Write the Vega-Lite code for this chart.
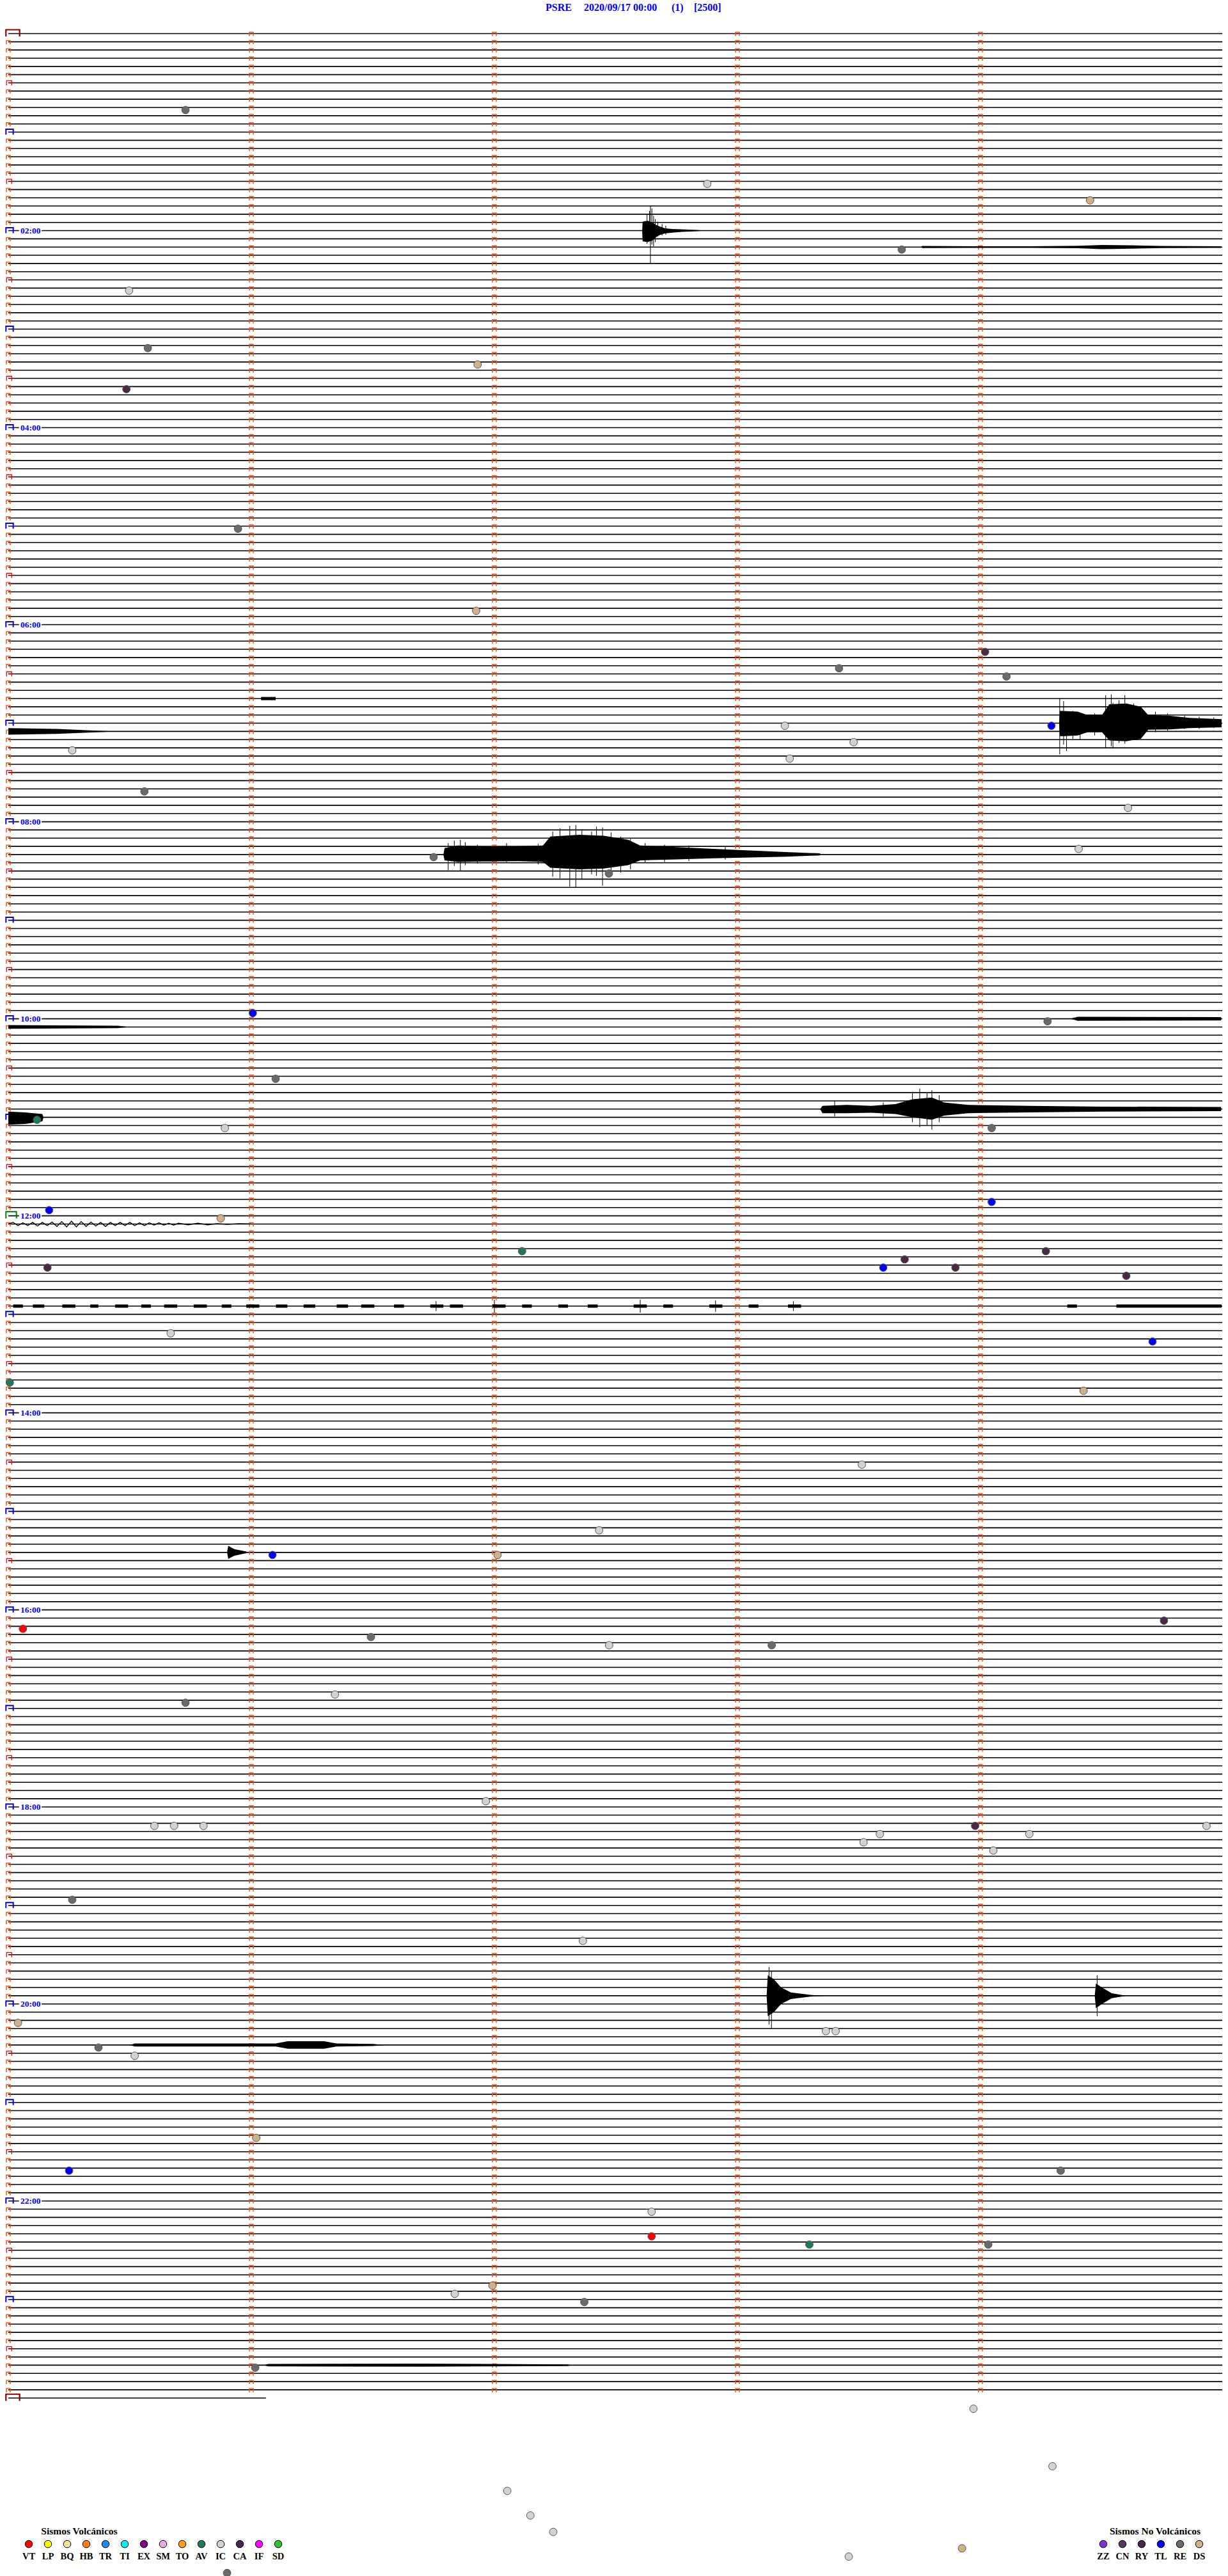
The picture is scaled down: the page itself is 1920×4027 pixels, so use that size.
{
"$schema":"https://vega.github.io/schema/vega-lite/v6.json",
"width":1920,"height":4027,"autosize":{"type":"none"},"padding":0,"background":"white",
"config":{"view":{"stroke":null}},
"datasets":{
"rows":[{"r":0,"k":"d"},{"r":1},{"r":2},{"r":3},{"r":4},{"r":5},{"r":6,"k":"h"},{"r":7},{"r":8},{"r":9},{"r":10},{"r":11},
{"r":12,"k":"b"},{"r":13},{"r":14},{"r":15},{"r":16},{"r":17},{"r":18,"k":"h"},{"r":19},{"r":20},{"r":21},{"r":22},{"r":23},
{"r":24,"k":"b"},{"r":25},{"r":26},{"r":27},{"r":28},{"r":29},{"r":30,"k":"h"},{"r":31},{"r":32},{"r":33},{"r":34},{"r":35},
{"r":36,"k":"b"},{"r":37},{"r":38},{"r":39},{"r":40},{"r":41},{"r":42,"k":"h"},{"r":43},{"r":44},{"r":45},{"r":46},{"r":47},
{"r":48,"k":"b"},{"r":49},{"r":50},{"r":51},{"r":52},{"r":53},{"r":54,"k":"h"},{"r":55},{"r":56},{"r":57},{"r":58},{"r":59},
{"r":60,"k":"b"},{"r":61},{"r":62},{"r":63},{"r":64},{"r":65},{"r":66,"k":"h"},{"r":67},{"r":68},{"r":69},{"r":70},{"r":71},
{"r":72,"k":"b"},{"r":73},{"r":74},{"r":75},{"r":76},{"r":77},{"r":78,"k":"h"},{"r":79},{"r":80},{"r":81},{"r":82},{"r":83},
{"r":84,"k":"b"},{"r":85},{"r":86},{"r":87},{"r":88},{"r":89},{"r":90,"k":"h"},{"r":91},{"r":92},{"r":93},{"r":94},{"r":95},
{"r":96,"k":"b"},{"r":97},{"r":98},{"r":99},{"r":100},{"r":101},{"r":102,"k":"h"},{"r":103},{"r":104},{"r":105},{"r":106},{"r":107},
{"r":108,"k":"b"},{"r":109},{"r":110},{"r":111},{"r":112},{"r":113},{"r":114,"k":"h"},{"r":115},{"r":116},{"r":117},{"r":118},{"r":119},
{"r":120,"k":"b"},{"r":121},{"r":122},{"r":123},{"r":124},{"r":125},{"r":126,"k":"h"},{"r":127},{"r":128},{"r":129},{"r":130},{"r":131},
{"r":132,"k":"b"},{"r":133},{"r":134},{"r":135},{"r":136},{"r":137},{"r":138,"k":"h"},{"r":139},{"r":140},{"r":141},{"r":142},{"r":143},
{"r":144,"k":"g"},{"r":145},{"r":146},{"r":147},{"r":148},{"r":149},{"r":150,"k":"h"},{"r":151},{"r":152},{"r":153},{"r":154},{"r":155},
{"r":156,"k":"b"},{"r":157},{"r":158},{"r":159},{"r":160},{"r":161},{"r":162,"k":"h"},{"r":163},{"r":164},{"r":165},{"r":166},{"r":167},
{"r":168,"k":"b"},{"r":169},{"r":170},{"r":171},{"r":172},{"r":173},{"r":174,"k":"h"},{"r":175},{"r":176},{"r":177},{"r":178},{"r":179},
{"r":180,"k":"b"},{"r":181},{"r":182},{"r":183},{"r":184},{"r":185},{"r":186,"k":"h"},{"r":187},{"r":188},{"r":189},{"r":190},{"r":191},
{"r":192,"k":"b"},{"r":193},{"r":194},{"r":195},{"r":196},{"r":197},{"r":198,"k":"h"},{"r":199},{"r":200},{"r":201},{"r":202},{"r":203},
{"r":204,"k":"b"},{"r":205},{"r":206},{"r":207},{"r":208},{"r":209},{"r":210,"k":"h"},{"r":211},{"r":212},{"r":213},{"r":214},{"r":215},
{"r":216,"k":"b"},{"r":217},{"r":218},{"r":219},{"r":220},{"r":221},{"r":222,"k":"h"},{"r":223},{"r":224},{"r":225},{"r":226},{"r":227},
{"r":228,"k":"b"},{"r":229},{"r":230},{"r":231},{"r":232},{"r":233},{"r":234,"k":"h"},{"r":235},{"r":236},{"r":237},{"r":238},{"r":239},
{"r":240,"k":"b"},{"r":241},{"r":242},{"r":243},{"r":244},{"r":245},{"r":246,"k":"h"},{"r":247},{"r":248},{"r":249},{"r":250},{"r":251},
{"r":252,"k":"b"},{"r":253},{"r":254},{"r":255},{"r":256},{"r":257},{"r":258,"k":"h"},{"r":259},{"r":260},{"r":261},{"r":262},{"r":263},
{"r":264,"k":"b"},{"r":265},{"r":266},{"r":267},{"r":268},{"r":269},{"r":270,"k":"h"},{"r":271},{"r":272},{"r":273},{"r":274},{"r":275},
{"r":276,"k":"b"},{"r":277},{"r":278},{"r":279},{"r":280},{"r":281},{"r":282,"k":"h"},{"r":283},{"r":284},{"r":285},{"r":286},{"r":287},
{"r":288,"k":"d"}],
"labels":[{"r":24,"t":"02:00"},{"r":48,"t":"04:00"},{"r":72,"t":"06:00"},{"r":96,"t":"08:00"},{"r":120,"t":"10:00"},{"r":144,"t":"12:00"},{"r":168,"t":"14:00"},{"r":192,"t":"16:00"},{"r":216,"t":"18:00"},{"r":240,"t":"20:00"},{"r":264,"t":"22:00"}],
"title":[{"m":2.2105,"t":"PSRE"},{"m":2.3684,"t":"2020/09/17 00:00"},{"m":2.7289,"t":"(1)"},{"m":2.8211,"t":"[2500]"}],
"seg":[{"m1":0.02,"m2":0.06,"r":155},{"m1":0.101,"m2":0.148,"r":155},{"m1":0.222,"m2":0.276,"r":155},{"m1":0.337,"m2":0.371,"r":155},{"m1":0.439,"m2":0.493,"r":155},{"m1":0.547,"m2":0.587,"r":155},{"m1":0.641,"m2":0.695,"r":155},{"m1":0.763,"m2":0.817,"r":155},{"m1":0.878,"m2":0.918,"r":155},{"m1":0.979,"m2":1.033,"r":155},{"m1":1.101,"m2":1.148,"r":155},{"m1":1.215,"m2":1.263,"r":155},{"m1":1.351,"m2":1.398,"r":155},{"m1":1.452,"m2":1.506,"r":155},{"m1":1.587,"m2":1.628,"r":155},{"m1":1.736,"m2":1.79,"r":155},{"m1":1.817,"m2":1.871,"r":155},{"m1":1.992,"m2":2.046,"r":155},{"m1":2.114,"m2":2.154,"r":155},{"m1":2.263,"m2":2.303,"r":155},{"m1":2.384,"m2":2.425,"r":155},{"m1":2.573,"m2":2.627,"r":155},{"m1":2.695,"m2":2.735,"r":155},{"m1":2.884,"m2":2.938,"r":155},{"m1":3.046,"m2":3.087,"r":155},{"m1":3.208,"m2":3.262,"r":155},{"m1":4.357,"m2":4.397,"r":155},{"m1":4.559,"m2":4.992,"r":155},{"m1":1.04,"m2":1.1,"r":81}],
"env":[
{"e":"A","m":2.608,"lo":24,"hi":24},{"e":"A","m":2.61,"lo":22.9,"hi":25.3},{"e":"A","m":2.63,"lo":22.8,"hi":25.4},{"e":"A","m":2.65,"lo":23.0,"hi":25.2},{"e":"A","m":2.665,"lo":23.3,"hi":24.8},{"e":"A","m":2.68,"lo":23.5,"hi":24.55},{"e":"A","m":2.7,"lo":23.7,"hi":24.35},{"e":"A","m":2.73,"lo":23.8,"hi":24.25},{"e":"A","m":2.77,"lo":23.85,"hi":24.15},{"e":"A","m":2.83,"lo":23.92,"hi":24.08},{"e":"A","m":2.87,"lo":24,"hi":24},
{"e":"N","m":3.755,"lo":26,"hi":26},{"e":"N","m":3.76,"lo":25.87,"hi":26.13},{"e":"N","m":4.0,"lo":25.9,"hi":26.1},{"e":"N","m":4.2,"lo":25.9,"hi":26.1},{"e":"N","m":4.4,"lo":25.85,"hi":26.15},{"e":"N","m":4.5,"lo":25.75,"hi":26.25},{"e":"N","m":4.62,"lo":25.8,"hi":26.2},{"e":"N","m":4.75,"lo":25.87,"hi":26.13},{"e":"N","m":4.99,"lo":25.9,"hi":26.1},
{"e":"B","m":4.324,"lo":84,"hi":84},{"e":"B","m":4.327,"lo":82.5,"hi":85.6},{"e":"B","m":4.4,"lo":82.6,"hi":85.5},{"e":"B","m":4.44,"lo":83.0,"hi":85.1},{"e":"B","m":4.5,"lo":83.0,"hi":85.1},{"e":"B","m":4.53,"lo":81.7,"hi":86.1},{"e":"B","m":4.6,"lo":81.6,"hi":86.2},{"e":"B","m":4.66,"lo":82.0,"hi":85.9},{"e":"B","m":4.69,"lo":83.0,"hi":84.8},{"e":"B","m":4.78,"lo":83.1,"hi":84.75},{"e":"B","m":4.86,"lo":83.35,"hi":84.6},{"e":"B","m":4.992,"lo":83.5,"hi":84.5},
{"e":"B2","m":0,"lo":84.6,"hi":85.4},{"e":"B2","m":0.2,"lo":84.7,"hi":85.3},{"e":"B2","m":0.44,"lo":85,"hi":85},
{"e":"C","m":1.79,"lo":100,"hi":100},{"e":"C","m":1.795,"lo":99.2,"hi":100.7},{"e":"C","m":1.85,"lo":98.9,"hi":100.9},{"e":"C","m":1.95,"lo":99.0,"hi":100.85},{"e":"C","m":2.1,"lo":99.0,"hi":100.8},{"e":"C","m":2.2,"lo":98.9,"hi":100.9},{"e":"C","m":2.23,"lo":97.8,"hi":101.6},{"e":"C","m":2.35,"lo":97.6,"hi":101.8},{"e":"C","m":2.45,"lo":97.7,"hi":101.7},{"e":"C","m":2.55,"lo":98.2,"hi":101.3},{"e":"C","m":2.6,"lo":98.9,"hi":100.7},{"e":"C","m":2.75,"lo":99.1,"hi":100.6},{"e":"C","m":2.9,"lo":99.3,"hi":100.45},{"e":"C","m":3.05,"lo":99.5,"hi":100.35},{"e":"C","m":3.2,"lo":99.7,"hi":100.25},{"e":"C","m":3.34,"lo":99.85,"hi":100.1},
{"e":"R1","m":4.37,"lo":120,"hi":120},{"e":"R1","m":4.4,"lo":119.75,"hi":120.25},{"e":"R1","m":4.99,"lo":119.8,"hi":120.2},
{"e":"R2","m":0,"lo":120.78,"hi":121.22},{"e":"R2","m":0.45,"lo":120.85,"hi":121.15},{"e":"R2","m":0.5,"lo":121,"hi":121},
{"e":"D","m":3.34,"lo":131,"hi":131},{"e":"D","m":3.35,"lo":130.6,"hi":131.5},{"e":"D","m":3.45,"lo":130.5,"hi":131.5},{"e":"D","m":3.55,"lo":130.6,"hi":131.45},{"e":"D","m":3.65,"lo":130.4,"hi":131.6},{"e":"D","m":3.72,"lo":129.8,"hi":132.0},{"e":"D","m":3.8,"lo":129.6,"hi":132.3},{"e":"D","m":3.85,"lo":130.2,"hi":131.8},{"e":"D","m":3.95,"lo":130.5,"hi":131.5},{"e":"D","m":4.2,"lo":130.6,"hi":131.4},{"e":"D","m":4.5,"lo":130.7,"hi":131.3},{"e":"D","m":4.99,"lo":130.75,"hi":131.25},
{"e":"D2","m":0,"lo":131.3,"hi":132.9},{"e":"D2","m":0.07,"lo":131.4,"hi":132.8},{"e":"D2","m":0.14,"lo":131.6,"hi":132.5},{"e":"D2","m":0.145,"lo":132,"hi":132},
{"e":"F","m":0.9,"lo":185,"hi":185},{"e":"F","m":0.905,"lo":184.2,"hi":185.8},{"e":"F","m":0.93,"lo":184.6,"hi":185.4},{"e":"F","m":0.98,"lo":184.9,"hi":185.1},
{"e":"E1","m":3.12,"lo":239,"hi":239},{"e":"E1","m":3.125,"lo":236.5,"hi":241.5},{"e":"E1","m":3.15,"lo":237.0,"hi":241.0},{"e":"E1","m":3.18,"lo":238.0,"hi":240.0},{"e":"E1","m":3.22,"lo":238.6,"hi":239.4},{"e":"E1","m":3.3,"lo":238.9,"hi":239.1},{"e":"E1","m":3.36,"lo":239,"hi":239},
{"e":"E2","m":4.47,"lo":239,"hi":239},{"e":"E2","m":4.475,"lo":237.5,"hi":240.5},{"e":"E2","m":4.5,"lo":238.0,"hi":240.0},{"e":"E2","m":4.54,"lo":238.7,"hi":239.3},{"e":"E2","m":4.6,"lo":239,"hi":239},
{"e":"G","m":0.5,"lo":245,"hi":245},{"e":"G","m":0.52,"lo":244.82,"hi":245.18},{"e":"G","m":1.1,"lo":244.82,"hi":245.18},{"e":"G","m":1.15,"lo":244.55,"hi":245.45},{"e":"G","m":1.3,"lo":244.55,"hi":245.45},{"e":"G","m":1.35,"lo":244.82,"hi":245.18},{"e":"G","m":1.5,"lo":244.88,"hi":245.12},{"e":"G","m":1.55,"lo":245,"hi":245},
{"e":"H","m":1.05,"lo":284,"hi":284},{"e":"H","m":1.07,"lo":283.85,"hi":284.15},{"e":"H","m":1.7,"lo":283.82,"hi":284.18},{"e":"H","m":2.3,"lo":283.9,"hi":284.1},{"e":"H","m":2.32,"lo":284,"hi":284}
],
"spk":[
{"m":2.628,"lo":22.0,"hi":25.6},{"m":2.638,"lo":21.6,"hi":25.0},{"m":2.642,"lo":21.0,"hi":28.05},{"m":2.648,"lo":21.3,"hi":25.7},{"m":2.655,"lo":22.2,"hi":25.9},{"m":2.662,"lo":22.6,"hi":25.4},{"m":2.672,"lo":22.9,"hi":24.7},{"m":2.69,"lo":23.2,"hi":24.6},{"m":2.705,"lo":23.4,"hi":24.5},
{"m":4.326,"lo":81.0,"hi":87.8},{"m":4.342,"lo":81.3,"hi":86.6},{"m":4.354,"lo":82.6,"hi":87.4},{"m":4.38,"lo":82.5,"hi":85.9},{"m":4.41,"lo":82.7,"hi":86.0},{"m":4.47,"lo":82.8,"hi":85.5},{"m":4.515,"lo":80.6,"hi":87.0},{"m":4.538,"lo":80.5,"hi":86.8},{"m":4.545,"lo":81.5,"hi":87.1},{"m":4.57,"lo":81.2,"hi":86.4},{"m":4.594,"lo":80.6,"hi":86.5},{"m":4.63,"lo":81.6,"hi":86.0},{"m":4.66,"lo":82.0,"hi":85.8},{"m":4.72,"lo":82.6,"hi":85.1},{"m":4.77,"lo":82.8,"hi":84.9},{"m":4.84,"lo":83.1,"hi":84.7},{"m":4.9,"lo":83.2,"hi":84.7},{"m":4.96,"lo":83.3,"hi":84.6},
{"m":1.81,"lo":98.6,"hi":101.9},{"m":1.835,"lo":98.3,"hi":101.4},{"m":1.86,"lo":98.2,"hi":101.95},{"m":1.88,"lo":98.5,"hi":101.3},{"m":1.93,"lo":98.8,"hi":101.1},{"m":2.05,"lo":98.6,"hi":101.0},{"m":2.18,"lo":98.7,"hi":101.2},{"m":2.24,"lo":97.2,"hi":102.7},{"m":2.27,"lo":96.8,"hi":102.9},{"m":2.31,"lo":96.5,"hi":103.9},{"m":2.335,"lo":96.4,"hi":104.0},{"m":2.36,"lo":96.9,"hi":103.0},{"m":2.4,"lo":97.2,"hi":102.4},{"m":2.42,"lo":96.6,"hi":102.6},{"m":2.445,"lo":96.7,"hi":103.8},{"m":2.48,"lo":97.3,"hi":102.5},{"m":2.52,"lo":97.8,"hi":102.2},{"m":2.56,"lo":98.0,"hi":101.8},{"m":2.62,"lo":98.6,"hi":101.0},{"m":2.7,"lo":98.8,"hi":100.9},{"m":2.8,"lo":98.9,"hi":100.8},{"m":2.95,"lo":99.1,"hi":100.6},
{"m":3.4,"lo":130.0,"hi":131.9},{"m":3.6,"lo":130.2,"hi":131.9},{"m":3.72,"lo":128.9,"hi":132.6},{"m":3.75,"lo":128.5,"hi":133.2},{"m":3.78,"lo":129.0,"hi":133.0},{"m":3.8,"lo":128.7,"hi":133.5},{"m":3.83,"lo":129.3,"hi":132.6},
{"m":3.13,"lo":235.5,"hi":242.5},{"m":3.14,"lo":236.0,"hi":243.0},{"m":4.48,"lo":236.5,"hi":241.5},
{"m":2.0,"lo":154.2,"hi":155.8},{"m":2.6,"lo":154.2,"hi":155.8},{"m":2.91,"lo":154.3,"hi":155.7},{"m":3.23,"lo":154.4,"hi":155.6},{"m":1.76,"lo":154.4,"hi":155.6}
],
"wave":[{"m":0.0,"v":145},{"m":0.02,"v":144.8},{"m":0.04,"v":145.2},{"m":0.06,"v":144.85},{"m":0.08,"v":145.2},{"m":0.1,"v":144.8},{"m":0.12,"v":145.25},{"m":0.14,"v":144.8},{"m":0.16,"v":145.2},{"m":0.18,"v":144.75},{"m":0.2,"v":145.3},{"m":0.22,"v":144.7},{"m":0.24,"v":145.35},{"m":0.26,"v":144.65},{"m":0.28,"v":145.35},{"m":0.3,"v":144.7},{"m":0.32,"v":145.3},{"m":0.34,"v":144.75},{"m":0.36,"v":145.25},{"m":0.38,"v":144.8},{"m":0.4,"v":145.3},{"m":0.42,"v":144.8},{"m":0.44,"v":145.2},{"m":0.46,"v":144.8},{"m":0.48,"v":145.2},{"m":0.5,"v":144.8},{"m":0.52,"v":145.2},{"m":0.54,"v":144.85},{"m":0.56,"v":145.2},{"m":0.58,"v":144.85},{"m":0.6,"v":145.15},{"m":0.62,"v":144.85},{"m":0.64,"v":145.15},{"m":0.66,"v":144.9},{"m":0.68,"v":145.15},{"m":0.7,"v":144.9},{"m":0.74,"v":145.1},{"m":0.78,"v":144.9},{"m":0.82,"v":145.1},{"m":0.86,"v":144.95},{"m":0.9,"v":145.05},{"m":0.95,"v":144.95},{"m":1.0,"v":145}],
"ev":[{"m":0.729,"r":9,"t":"RE"},{"m":2.876,"r":18,"t":"IC"},{"m":4.451,"r":20,"t":"DS"},{"m":3.676,"r":26,"t":"RE"},{"m":0.497,"r":31,"t":"IC"},{"m":0.574,"r":38,"t":"RE"},{"m":1.931,"r":40,"t":"DS"},{"m":0.486,"r":43,"t":"RY"},{"m":0.945,"r":60,"t":"RE"},{"m":1.925,"r":70,"t":"DS"},{"m":4.019,"r":75,"t":"RY"},{"m":3.418,"r":77,"t":"RE"},{"m":4.107,"r":78,"t":"RE"},{"m":4.292,"r":84,"t":"TL"},{"m":3.195,"r":84,"t":"IC"},{"m":0.263,"r":87,"t":"IC"},{"m":3.478,"r":86,"t":"IC"},{"m":3.215,"r":88,"t":"IC"},{"m":0.56,"r":92,"t":"RE"},{"m":4.607,"r":94,"t":"IC"},{"m":1.75,"r":100,"t":"RE"},{"m":2.471,"r":102,"t":"RE"},{"m":4.404,"r":99,"t":"IC"},{"m":1.006,"r":119,"t":"TL"},{"m":4.276,"r":120,"t":"RE"},{"m":1.1,"r":127,"t":"RE"},{"m":0.118,"r":132,"t":"AV"},{"m":0.891,"r":133,"t":"IC"},{"m":4.046,"r":133,"t":"RE"},{"m":0.168,"r":143,"t":"TL"},{"m":0.874,"r":144,"t":"DS"},{"m":4.046,"r":142,"t":"TL"},{"m":2.114,"r":148,"t":"AV"},{"m":0.161,"r":150,"t":"RY"},{"m":3.688,"r":149,"t":"RY"},{"m":3.6,"r":150,"t":"TL"},{"m":3.897,"r":150,"t":"RY"},{"m":4.269,"r":148,"t":"RY"},{"m":4.6,"r":151,"t":"RY"},{"m":4.708,"r":159,"t":"TL"},{"m":0.668,"r":158,"t":"IC"},{"m":0.006,"r":164,"t":"AV"},{"m":4.424,"r":165,"t":"DS"},{"m":3.512,"r":174,"t":"IC"},{"m":2.431,"r":182,"t":"IC"},{"m":1.087,"r":185,"t":"TL"},{"m":2.013,"r":185,"t":"DS"},{"m":0.06,"r":194,"t":"VT"},{"m":1.492,"r":195,"t":"RE"},{"m":2.472,"r":196,"t":"IC"},{"m":3.141,"r":196,"t":"RE"},{"m":4.755,"r":193,"t":"RY"},{"m":0.729,"r":203,"t":"RE"},{"m":1.344,"r":202,"t":"IC"},{"m":1.965,"r":215,"t":"IC"},{"m":0.601,"r":218,"t":"IC"},{"m":0.682,"r":218,"t":"IC"},{"m":0.803,"r":218,"t":"IC"},{"m":3.978,"r":218,"t":"RY"},{"m":4.201,"r":219,"t":"IC"},{"m":4.93,"r":218,"t":"IC"},{"m":3.586,"r":219,"t":"IC"},{"m":3.519,"r":220,"t":"IC"},{"m":4.053,"r":221,"t":"IC"},{"m":0.263,"r":227,"t":"RE"},{"m":2.364,"r":232,"t":"IC"},{"m":3.364,"r":243,"t":"IC"},{"m":3.404,"r":243,"t":"IC"},{"m":0.04,"r":242,"t":"DS"},{"m":0.371,"r":245,"t":"RE"},{"m":0.52,"r":246,"t":"IC"},{"m":1.02,"r":256,"t":"DS"},{"m":0.25,"r":260,"t":"TL"},{"m":4.33,"r":260,"t":"RE"},{"m":2.647,"r":265,"t":"IC"},{"m":2.647,"r":268,"t":"VT"},{"m":3.296,"r":269,"t":"AV"},{"m":4.032,"r":269,"t":"RE"},{"m":1.992,"r":274,"t":"DS"},{"m":1.837,"r":275,"t":"IC"},{"m":2.37,"r":276,"t":"RE"},{"m":1.016,"r":284,"t":"RE"},{"m":3.971,"r":289,"t":"IC"},{"m":4.296,"r":296,"t":"IC"},{"m":2.053,"r":299,"t":"IC"},{"m":2.148,"r":302,"t":"IC"},{"m":2.242,"r":304,"t":"IC"},{"m":3.458,"r":307,"t":"IC"},{"m":3.924,"r":306,"t":"DS"},{"m":0.9,"r":309,"t":"RE"}],
"leg":[{"i":0,"t":"VT"},{"i":1,"t":"LP"},{"i":2,"t":"BQ"},{"i":3,"t":"HB"},{"i":4,"t":"TR"},{"i":5,"t":"TI"},{"i":6,"t":"EX"},{"i":7,"t":"SM"},{"i":8,"t":"TO"},{"i":9,"t":"AV"},{"i":10,"t":"IC"},{"i":11,"t":"CA"},{"i":12,"t":"IF"},{"i":13,"t":"SD"},{"i":56,"t":"ZZ"},{"i":57,"t":"CN"},{"i":58,"t":"RY"},{"i":59,"t":"TL"},{"i":60,"t":"RE"},{"i":61,"t":"DS"}],
"legT":[{"i":2.63,"t":"Sismos Volcánicos"},{"i":58.7,"t":"Sismos No Volcánicos"}]
},
"layer":[
{"layer":[
{"data":{"name":"rows"},"transform":[{"filter":"datum.r < 288"}],"mark":{"type":"rule","color":"black","strokeWidth":1.6},
"encoding":{"x":{"datum":0,"type":"quantitative","scale":{"domain":[-0.03421,5.01842],"nice":false,"zero":false},"axis":null},"x2":{"datum":4.995},"y":{"field":"r","type":"quantitative","scale":{"domain":[-4.0907,309.68],"reverse":true,"nice":false,"zero":false},"axis":null}}},
{"data":{"name":"rows"},"transform":[{"filter":"datum.r == 288"}],"mark":{"type":"rule","color":"black","strokeWidth":1.6},
"encoding":{"x":{"datum":0,"type":"quantitative","axis":null},"x2":{"datum":1.06},"y":{"field":"r","type":"quantitative","axis":null}}},
{"data":{"name":"rows"},"transform":[{"filter":"datum.r < 288"}],"mark":{"type":"point","shape":"M -3 4 L -3 -2 L 3 -2 L 3 4","size":4,"filled":false,"color":"#ff4a00","strokeWidth":1.4,"opacity":1},
"encoding":{"x":{"datum":1,"type":"quantitative","axis":null},"y":{"field":"r","type":"quantitative","axis":null}}},
{"data":{"name":"rows"},"transform":[{"filter":"datum.r < 288"}],"mark":{"type":"point","shape":"M -3 4 L -3 -2 L 3 -2 L 3 4","size":4,"filled":false,"color":"#ff4a00","strokeWidth":1.4,"opacity":1},
"encoding":{"x":{"datum":2,"type":"quantitative","axis":null},"y":{"field":"r","type":"quantitative","axis":null}}},
{"data":{"name":"rows"},"transform":[{"filter":"datum.r < 288"}],"mark":{"type":"point","shape":"M -3 4 L -3 -2 L 3 -2 L 3 4","size":4,"filled":false,"color":"#ff4a00","strokeWidth":1.4,"opacity":1},
"encoding":{"x":{"datum":3,"type":"quantitative","axis":null},"y":{"field":"r","type":"quantitative","axis":null}}},
{"data":{"name":"rows"},"transform":[{"filter":"datum.r < 288"}],"mark":{"type":"point","shape":"M -3 4 L -3 -2 L 3 -2 L 3 4","size":4,"filled":false,"color":"#ff4a00","strokeWidth":1.4,"opacity":1},
"encoding":{"x":{"datum":4,"type":"quantitative","axis":null},"y":{"field":"r","type":"quantitative","axis":null}}},
{"data":{"name":"rows"},"transform":[{"filter":"!datum.k"}],"mark":{"type":"point","shape":"M -3 4 L -3 -2 L 3 -2 L 3 4","size":4,"filled":false,"color":"#ff4a00","strokeWidth":1.4,"opacity":1},
"encoding":{"x":{"datum":0,"type":"quantitative","axis":null},"y":{"field":"r","type":"quantitative","axis":null}}},
{"data":{"name":"rows"},"transform":[{"filter":"datum.k == 'h'"}],"mark":{"type":"point","shape":"M -2.7 4 L -2.7 -3.3 L 5.3 -3.3 L 5.3 4","size":4,"filled":false,"color":"#ff0000","strokeWidth":1.3,"opacity":1},
"encoding":{"x":{"datum":0,"type":"quantitative","axis":null},"y":{"field":"r","type":"quantitative","axis":null}}},
{"data":{"name":"rows"},"transform":[{"filter":"datum.k == 'b'"}],"mark":{"type":"point","shape":"M -3.7 4 L -3.7 -4.5 L 7.7 -4.5 L 7.7 4","size":4,"filled":false,"color":"#0000ff","strokeWidth":2,"opacity":1},
"encoding":{"x":{"datum":0,"type":"quantitative","axis":null},"y":{"field":"r","type":"quantitative","axis":null}}},
{"data":{"name":"rows"},"transform":[{"filter":"datum.k == 'g'"}],"mark":{"type":"point","shape":"M -3.7 4 L -3.7 -6.3 L 12.7 -6.3 L 12.7 4","size":4,"filled":false,"color":"#008000","strokeWidth":2,"opacity":1},
"encoding":{"x":{"datum":0,"type":"quantitative","axis":null},"y":{"field":"r","type":"quantitative","axis":null}}},
{"data":{"name":"rows"},"transform":[{"filter":"datum.k == 'd'"}],"mark":{"type":"point","shape":"M -3.7 4.5 L -3.7 -6 L 17.7 -6 L 17.7 4.5","size":4,"filled":false,"color":"#8b0000","strokeWidth":2.2,"opacity":1},
"encoding":{"x":{"datum":0,"type":"quantitative","axis":null},"y":{"field":"r","type":"quantitative","axis":null}}},
{"data":{"name":"env"},"mark":{"type":"area","color":"black","opacity":1},
"encoding":{"x":{"field":"m","type":"quantitative","axis":null},"y":{"field":"lo","type":"quantitative","axis":null},"y2":{"field":"hi"},"detail":{"field":"e"}}},
{"data":{"name":"seg"},"mark":{"type":"rule","color":"black","strokeWidth":5},
"encoding":{"x":{"field":"m1","type":"quantitative","axis":null},"x2":{"field":"m2"},"y":{"field":"r","type":"quantitative","axis":null}}},
{"data":{"name":"spk"},"mark":{"type":"rule","color":"black","strokeWidth":1},
"encoding":{"x":{"field":"m","type":"quantitative","axis":null},"y":{"field":"lo","type":"quantitative","axis":null},"y2":{"field":"hi"}}},
{"data":{"name":"wave"},"mark":{"type":"line","color":"black","strokeWidth":1.3},
"encoding":{"x":{"field":"m","type":"quantitative","axis":null},"y":{"field":"v","type":"quantitative","axis":null}}},
{"data":{"name":"labels"},"mark":{"type":"rule","color":"white","strokeWidth":6},
"encoding":{"x":{"datum":0.044,"type":"quantitative","axis":null},"x2":{"datum":0.137},"y":{"field":"r","type":"quantitative","axis":null}}},
{"data":{"name":"labels"},"mark":{"type":"text","align":"left","baseline":"middle","font":"Liberation Serif","fontWeight":"bold","fontSize":13.5,"color":"#0000ff"},
"encoding":{"x":{"datum":0.05,"type":"quantitative","axis":null},"y":{"field":"r","type":"quantitative","axis":null},"text":{"field":"t"}}},
{"data":{"name":"title"},"mark":{"type":"text","align":"left","baseline":"middle","font":"Liberation Serif","fontWeight":"bold","fontSize":16,"color":"#0000ff"},
"encoding":{"x":{"field":"m","type":"quantitative","axis":null},"y":{"datum":-3.156,"type":"quantitative","axis":null},"text":{"field":"t"}}},
{"data":{"name":"ev"},"mark":{"type":"point","shape":"circle","size":140,"filled":true,"stroke":"#555555","strokeWidth":1,"opacity":1,"fillOpacity":1,"yOffset":4},
"encoding":{"x":{"field":"m","type":"quantitative","axis":null},"y":{"field":"r","type":"quantitative","axis":null},
"fill":{"field":"t","type":"nominal","legend":null,"scale":{"domain":["VT","LP","BQ","HB","TR","TI","EX","SM","TO","AV","IC","CA","IF","SD","ZZ","CN","RY","TL","RE","DS"],"range":["#ff0000","#ffff00","#f2e3a6","#ff8010","#2088f0","#00f0f0","#800080","#f0a8e0","#ffa010","#207860","#d2d2d2","#4a2848","#ff00ff","#30c030","#8030d0","#583858","#4a2848","#0000ff","#6a6a6a","#d0b088"]}}}}
]},
{"layer":[
{"data":{"name":"leg"},"mark":{"type":"point","shape":"circle","size":133,"filled":true,"stroke":"#000000","strokeWidth":1,"opacity":1},
"encoding":{"x":{"field":"i","type":"quantitative","scale":{"domain":[-1.5,62.5],"nice":false,"zero":false},"axis":null},"y":{"datum":305.79,"type":"quantitative","axis":null},"fill":{"field":"t","type":"nominal","legend":null}}},
{"data":{"name":"leg"},"mark":{"type":"text","align":"center","baseline":"middle","font":"Liberation Serif","fontWeight":"bold","fontSize":14.5,"color":"black"},
"encoding":{"x":{"field":"i","type":"quantitative","axis":null},"y":{"datum":307.35,"type":"quantitative","axis":null},"text":{"field":"t"}}},
{"data":{"name":"legT"},"mark":{"type":"text","align":"center","baseline":"middle","font":"Liberation Serif","fontWeight":"bold","fontSize":15.5,"color":"black"},
"encoding":{"x":{"field":"i","type":"quantitative","axis":null},"y":{"datum":304.23,"type":"quantitative","axis":null},"text":{"field":"t"}}}
]}
],
"resolve":{"scale":{"x":"independent"}}
}
